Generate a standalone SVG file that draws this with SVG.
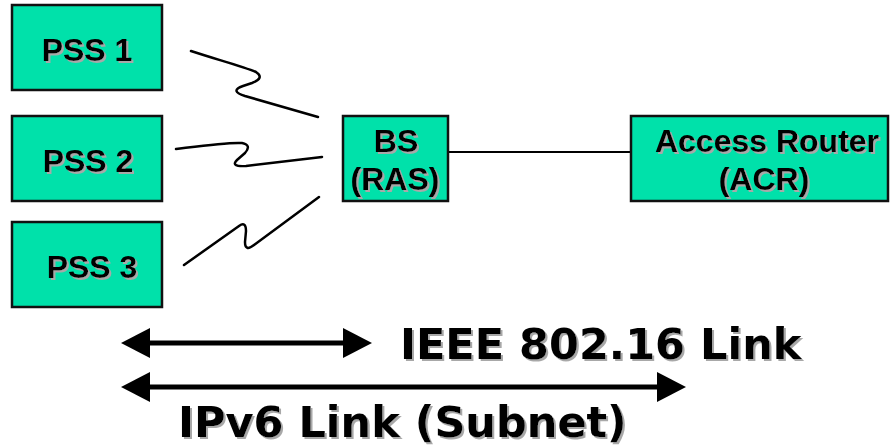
<svg xmlns="http://www.w3.org/2000/svg" width="891" height="446" viewBox="0 0 891 446">
  <style>
    .box { fill: #00e1aa; stroke: #111; stroke-width: 2.5; }
    .lbl { font-family: "Liberation Sans", Arial, sans-serif; font-weight: bold; font-size: 32px; fill: #000; text-anchor: middle; filter: url(#shadow); }
    .big { font-family: "DejaVu Sans", Verdana, sans-serif; font-weight: bold; font-size: 43px; fill: #000; filter: url(#shadow); }
    .wave { fill: none; stroke: #000; stroke-width: 2.5; stroke-linejoin: round; stroke-linecap: round; }
    .wire { fill: none; stroke: #000; stroke-width: 2; }
    .span { fill: none; stroke: #000; stroke-width: 5; marker-start: url(#head); marker-end: url(#head); }
  </style>
  <defs>
    <filter id="shadow" x="-5%" y="-10%" width="115%" height="130%">
      <feDropShadow dx="2" dy="2" stdDeviation="0.3" flood-color="#a8a8a8" flood-opacity="1"/>
    </filter>
    <marker id="head" markerUnits="userSpaceOnUse" markerWidth="30" markerHeight="30" refX="2" refY="15" orient="auto-start-reverse">
      <path d="M0,0 L29,15 L0,30 Z" fill="#000"/>
    </marker>
  </defs>

  <rect width="891" height="446" fill="#fff"/>

  <!-- connectors: radio links, wired backhaul, span arrows -->
  <g id="connectors">
    <path class="wave" d="M191,51 C215,59 245,67 256,72 Q265,78 252,83 L243,86 Q229,91 245,96 L318,117"/>
    <path class="wave" d="M176,149 C200,146 228,142 242,143 Q252,145 245,153 L237,160 Q230,167 246,166 L322,157"/>
    <path class="wave" d="M184,265 L239,226 Q246,221 246,231 L245,242 Q245,252 254,245 L319,197"/>
    <line class="wire" x1="448" y1="152" x2="631" y2="152"/>
    <line class="span" x1="148" y1="343" x2="345" y2="343"/>
    <line class="span" x1="148" y1="387" x2="659" y2="387"/>
  </g>

  <g id="pss1">
    <rect class="box" x="12" y="5" width="150" height="85"/>
    <text class="lbl" x="87" y="61">PSS 1</text>
  </g>
  <g id="pss2">
    <rect class="box" x="12" y="116" width="150" height="85"/>
    <text class="lbl" x="88" y="172">PSS 2</text>
  </g>
  <g id="pss3">
    <rect class="box" x="12" y="222" width="150" height="85"/>
    <text class="lbl" x="92" y="278">PSS 3</text>
  </g>
  <g id="bs">
    <rect class="box" x="343" y="116" width="105" height="85"/>
    <text class="lbl" x="396" y="152">BS</text>
    <text class="lbl" x="395" y="190">(RAS)</text>
  </g>
  <g id="acr">
    <rect class="box" x="631" y="116" width="257" height="85"/>
    <text class="lbl" x="767" y="152">Access Router</text>
    <text class="lbl" x="764" y="190">(ACR)</text>
  </g>

  <g id="labels">
    <text class="big" x="400" y="359">IEEE 802.16 Link</text>
    <text class="big" x="178" y="437">IPv6 Link (Subnet)</text>
  </g>
</svg>
